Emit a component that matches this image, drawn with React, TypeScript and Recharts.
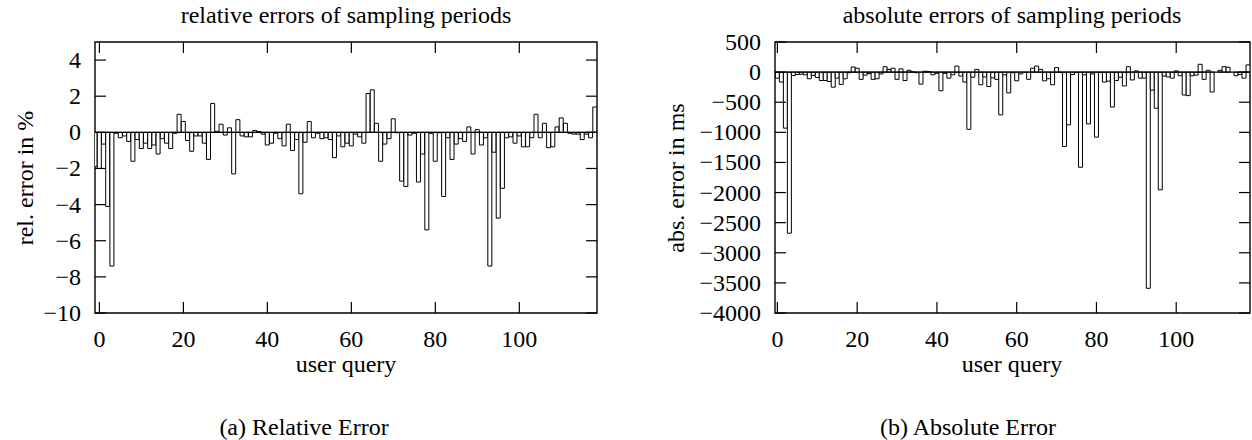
import React from 'react'
import { BarChart, Bar, XAxis, YAxis, ReferenceLine, ReferenceArea } from 'recharts'

// user query index, 0..118
const queries = Array.from({ length: 119 }, (_, i) => i)
// the relative plot also shows a clipped box left of query 0
const relQueries = [-1, ...queries]

// relative error in %
const relErrors = [
  -1.9,
  -2.0, -0.65, -4.1, -7.4, -0.05, -0.3, -0.2, -0.5, -1.6, -0.4,
  -0.9, -0.6, -0.9, -0.7, -1.2, -0.35, -0.6, -0.9, -0.05, 1.0,
  0.6, -0.45, -1.05, -0.2, -0.2, -0.6, -1.5, 1.6, 0.05, 0.45,
  -0.15, 0.25, -2.3, 0.7, -0.2, -0.25, -0.25, 0.1, 0.05, -0.1,
  -0.7, -0.6, -0.05, -0.35, -0.75, 0.45, -1.0, -0.4, -3.4, -0.55,
  0.6, -0.3, -0.05, -0.35, -0.3, -0.4, -1.4, -0.2, -0.8, -0.6,
  -0.75, -0.1, -0.25, -0.6, 2.15, 2.35, 0.5, -1.6, -0.65, -0.35,
  0.75, -0.02, -2.7, -3.0, -0.15, -0.05, -2.75, -1.2, -5.4, -0.05,
  -1.6, -0.02, -3.55, -0.3, -1.5, -0.65, -0.35, -0.5, 0.3, -1.2,
  0.15, -0.7, -0.3, -7.4, -1.1, -4.75, -3.1, -0.3, -0.25, -0.6,
  -0.2, -0.8, -0.8, -0.3, 1.0, -0.3, 0.5, -0.85, -0.8, 0.3,
  0.8, 0.5, -0.05, -0.1, -0.1, -0.4, -0.1, -0.3, 1.4,
]

// absolute error in ms
const absErrors = [
  -100, -165, -930, -2675, -55, -40, -35, -45, -110, -55,
  -90, -140, -140, -155, -250, -100, -205, -110, -10, 85,
  65, -120, -50, -25, -120, -110, -30, 90, 45, 65,
  -120, 55, -140, 30, 5, -10, -200, 15, 10, -45,
  -20, -310, -20, -100, -45, 100, -65, -165, -950, -85,
  45, -210, -80, -240, -95, -120, -710, -45, -345, -10,
  -145, -30, -5, -120, 65, 100, 45, -145, -110, -210,
  75, -5, -1235, -875, -40, -5, -1580, -45, -860, -30,
  -1080, -5, -165, -150, -580, -140, -85, -230, 90, -130,
  20, -100, -100, -3590, -300, -600, -1955, -65, -80, -100,
  20, -60, -380, -390, -60, -50, 130, -120, 30, -330,
  0, 30, 90, 80, 0, -60, -40, -100, 120,
]

const xTicks = [0, 20, 40, 60, 80, 100]
const relTicks = [-10, -8, -6, -4, -2, 0, 2, 4]
const absTicks = [-4000, -3500, -3000, -2500, -2000, -1500, -1000, -500, 0, 500]

const FONT = '"Liberation Serif", "Times New Roman", serif'
const FS = 24
const TICK = 11
const XAXIS_H = 40

const fmt = (v: number) => (v < 0 ? `\u2212${Math.abs(v)}` : `${v}`)

interface PanelProps {
  left: number
  width: number
  plot: { x: number; y: number; w: number; h: number }
  xDomain: [number, number]
  yDomain: [number, number]
  yTicks: number[]
  xs: number[]
  values: number[]
}

function Panel({ left, width, plot, xDomain, yDomain, yTicks, xs, values }: PanelProps) {
  const data = xs.map((q, i) => ({ q, v: values[i] }))
  const top = plot.y
  const bottom = plot.y + plot.h

  const xTick = (p: any) => (
    <g>
      <line x1={p.x} x2={p.x} y1={bottom} y2={bottom - TICK} stroke="#000" strokeWidth={1.2} />
      <line x1={p.x} x2={p.x} y1={top} y2={top + TICK} stroke="#000" strokeWidth={1.2} />
      <text x={p.x} y={bottom + 34} textAnchor="middle" fontFamily={FONT} fontSize={FS} fill="#000">
        {fmt(p.payload.value)}
      </text>
    </g>
  )

  const yTick = (p: any) => (
    <g>
      <line x1={plot.x} x2={plot.x + TICK} y1={p.y} y2={p.y} stroke="#000" strokeWidth={1.2} />
      <line x1={plot.x + plot.w} x2={plot.x + plot.w - TICK} y1={p.y} y2={p.y} stroke="#000" strokeWidth={1.2} />
      <text x={plot.x - 14} y={p.y + 8} textAnchor="end" fontFamily={FONT} fontSize={FS} fill="#000">
        {fmt(p.payload.value)}
      </text>
    </g>
  )

  return (
    <div style={{ position: 'absolute', left, top: 0 }}>
      <BarChart
        width={width}
        height={440}
        data={data}
        barCategoryGap={0}
        barGap={0}
        margin={{ top, left: 0, right: width - plot.x - plot.w, bottom: 440 - bottom - XAXIS_H }}
      >
        <XAxis
          dataKey="q"
          type="number"
          domain={xDomain}
          ticks={xTicks}
          interval={0}
          allowDataOverflow
          height={XAXIS_H}
          axisLine={false}
          tickLine={false}
          tick={xTick}
        />
        <YAxis
          type="number"
          domain={yDomain}
          ticks={yTicks}
          interval={0}
          allowDataOverflow
          width={plot.x}
          axisLine={false}
          tickLine={false}
          tick={yTick}
        />
        <Bar dataKey="v" fill="#fff" stroke="#000" strokeWidth={1} isAnimationActive={false} />
        <ReferenceLine y={0} stroke="#000" strokeWidth={1.2} />
        <ReferenceArea
          x1={xDomain[0]}
          x2={xDomain[1]}
          y1={yDomain[0]}
          y2={yDomain[1]}
          fill="none"
          stroke="#000"
          strokeWidth={1.4}
          ifOverflow="visible"
        />
      </BarChart>
    </div>
  )
}

export default function App() {
  const txt = { fontFamily: FONT, fontSize: FS, fill: '#000' }
  return (
    <div style={{ position: 'absolute', left: 0, top: 0, width: 1252, height: 440, background: '#fff' }}>
      <Panel
        left={0}
        width={626}
        plot={{ x: 95, y: 42, w: 502, h: 271 }}
        xDomain={[-1.05, 118.5]}
        yDomain={[-10, 5]}
        yTicks={relTicks}
        xs={relQueries}
        values={relErrors}
      />
      <Panel
        left={626}
        width={626}
        plot={{ x: 149, y: 42, w: 475, h: 271 }}
        xDomain={[-0.6, 118.5]}
        yDomain={[-4000, 500]}
        yTicks={absTicks}
        xs={queries}
        values={absErrors}
      />
      <svg width={1252} height={440} style={{ position: 'absolute', left: 0, top: 0, pointerEvents: 'none' }}>
        <text x={346} y={23} textAnchor="middle" {...txt}>relative errors of sampling periods</text>
        <text x={1012} y={23} textAnchor="middle" {...txt}>absolute errors of sampling periods</text>
        <text x={346} y={372} textAnchor="middle" {...txt}>user query</text>
        <text x={1012} y={372} textAnchor="middle" {...txt}>user query</text>
        <text x={33} y={178} textAnchor="middle" transform="rotate(-90 33 178)" {...txt}>rel. error in %</text>
        <text x={684} y={178} textAnchor="middle" transform="rotate(-90 684 178)" {...txt}>abs. error in ms</text>
        <text x={304} y={435} textAnchor="middle" {...txt}>(a) Relative Error</text>
        <text x={968} y={435} textAnchor="middle" {...txt}>(b) Absolute Error</text>
      </svg>
    </div>
  )
}
